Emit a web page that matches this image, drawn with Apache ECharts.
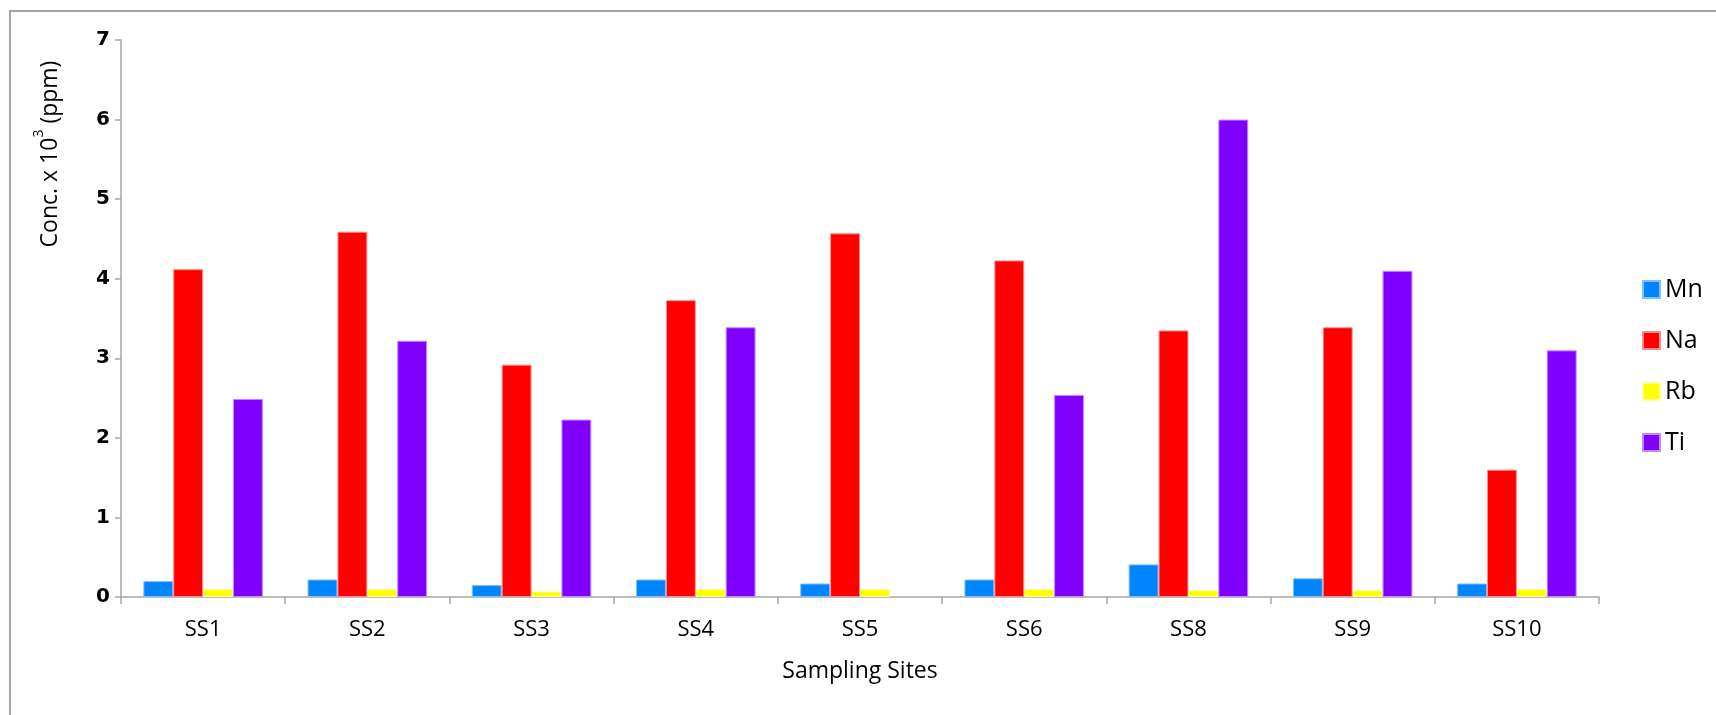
<!DOCTYPE html>
<html>
<head>
<meta charset="utf-8">
<script src="https://cdn.jsdelivr.net/npm/echarts@6/dist/echarts.min.js"></script>
<style>
  html, body { margin: 0; padding: 0; background: #ffffff; }
  #chart { width: 1716px; height: 715px; }
</style>
</head>
<body>
<div id="chart"></div>
<script>
// Sampling sites along the x axis
const sites = ['SS1', 'SS2', 'SS3', 'SS4', 'SS5', 'SS6', 'SS8', 'SS9', 'SS10'];

// Element concentrations (x 10^3 ppm) per site
const mn = [0.20, 0.22, 0.15, 0.22, 0.17, 0.22, 0.41, 0.235, 0.17];
const na = [4.12, 4.59, 2.92, 3.73, 4.57, 4.23, 3.35, 3.39, 1.60];
const rb = [0.10, 0.10, 0.07, 0.10, 0.10, 0.10, 0.085, 0.085, 0.10];
const ti = [2.49, 3.22, 2.23, 3.39, null, 2.54, 6.00, 4.10, 3.10];

// Y axis ticks
const yTicks = [0, 1, 2, 3, 4, 5, 6, 7];

const seriesDefs = [
  { name: 'Mn', data: mn, color: '#0085ff', edge: '#7fc0ff' },
  { name: 'Na', data: na, color: '#ff0000', edge: '#ff8c8c' },
  { name: 'Rb', data: rb, color: '#ffff00', edge: '#ffff99' },
  { name: 'Ti', data: ti, color: '#8000ff', edge: '#c08cff' }
];

const chart = echarts.init(document.getElementById('chart'), null, { renderer: 'canvas' });

const axisGray = '#a6a6a6';
const labelFont = '"Open Sans", "DejaVu Sans", sans-serif';

chart.setOption({
  animation: false,
  backgroundColor: '#ffffff',
  graphic: [
    {
      type: 'rect',
      shape: { x: 10, y: 11, width: 1730, height: 730 },
      style: { fill: 'none', stroke: '#a6a6a6', lineWidth: 2 },
      z: -10
    },
    {
      type: 'text',
      x: 47,
      y: 154,
      rotation: Math.PI / 2,
      style: {
        text: '{t|Conc. x 10}{s|3}{t| (ppm)}',
        align: 'center',
        verticalAlign: 'middle',
        rich: {
          t: { fontFamily: labelFont, fontSize: 23, fill: '#000', verticalAlign: 'bottom', lineHeight: 30 },
          s: { fontFamily: labelFont, fontSize: 14, fill: '#000', verticalAlign: 'top', lineHeight: 30 }
        }
      }
    }
  ],
  grid: { left: 121, right: 117, top: 40, bottom: 118, containLabel: false },
  legend: {
    orient: 'vertical',
    left: 1642,
    top: 277,
    itemWidth: 17,
    itemHeight: 17,
    itemGap: 26,
    icon: 'rect',
    padding: 0,
    textStyle: { fontFamily: labelFont, fontSize: 25, color: '#000' },
    data: seriesDefs.map(s => s.name)
  },
  xAxis: {
    type: 'category',
    data: sites,
    name: 'Sampling Sites',
    nameLocation: 'middle',
    nameGap: 63,
    nameTextStyle: { fontFamily: labelFont, fontSize: 23, color: '#000' },
    axisLine: { lineStyle: { color: axisGray, width: 1.5 } },
    axisTick: { show: true, length: 7, lineStyle: { color: axisGray, width: 1.5 } },
    axisLabel: { fontFamily: labelFont, fontSize: 22, color: '#000', margin: 22 },
    splitLine: { show: false }
  },
  yAxis: {
    type: 'value',
    min: yTicks[0],
    max: yTicks[yTicks.length - 1],
    interval: 1,
    axisLine: { show: true, lineStyle: { color: axisGray, width: 1.5 } },
    axisTick: { show: true, length: 6, lineStyle: { color: axisGray, width: 1.5 } },
    axisLabel: {
      fontFamily: '"DejaVu Sans", sans-serif',
      fontWeight: 'bold',
      fontSize: 20,
      color: '#000',
      margin: 11
    },
    splitLine: { show: false }
  },
  series: seriesDefs.map(s => ({
    name: s.name,
    type: 'bar',
    data: s.data,
    barGap: '0%',
    barCategoryGap: '27.2%',
    itemStyle: { color: s.color, borderColor: s.edge, borderWidth: 1 }
  }))
});
</script>
</body>
</html>
